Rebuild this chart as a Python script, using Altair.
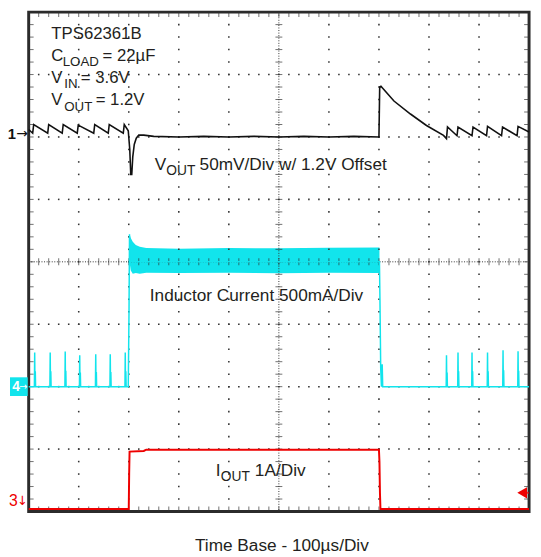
import altair as alt
import numpy as np
import pandas as pd

# ---------------- data read from the scope shot ----------------
# Channel 1: VOUT, 50 mV/div, deviation from 1.2 V (mV); reference level at 6 div
vout_t = [0, 8, 10, 38, 40, 67, 69, 97, 99, 130, 132, 159, 161, 189, 191, 199, 202, 204, 206,
          208, 211, 215, 220, 230, 250, 300, 350, 400, 450, 500, 550, 600, 650, 700,
          701.5, 704, 730, 763, 795, 829, 835, 837, 856, 858, 886, 888, 915, 917, 945,
          947, 976, 978, 1000]
vout_mv = [6, 3, 10, 3, 10, 3, 10, 3, 9.5, 3, 10, 3, 10, 3, 10, 5, -10, -30, -30,
           -16, -6, -1, 1.5, 1.5, 0.5, 0, 0.5, 0, 0.5, 0, 0.5, 0, 0.5, 0,
           40, 40.6, 28.8, 18.4, 9.2, 1.3, -1.3, 8, 1, 8, 1, 8, 1, 8.5, 1,
           8, 1, 8.5, 4]

# Channel 4: inductor current, 500 mA/div, zero at 2 div
il_pulse_t_before = [12, 43, 73, 102, 134, 163, 193]
il_pulse_ma_before = [273, 273, 281, 252, 259, 259, 273]
il_pulse_t_after = [835, 858, 886, 917, 948, 978]
il_pulse_ma_after = [252, 273, 273, 273, 291, 283]
il_edge_t = [199, 200.5, 201.5, 203, 700, 701, 702, 703.5, 705, 706.5, 707.5]
il_edge_ma = [0, 600, 1220, 1000, 1000, 1000, 700, 150, 0, 180, 0]
band_t = [201.5, 204, 208, 214, 222, 235, 300, 400, 500, 600, 700, 701]
band_hi_ma = [1220, 1190, 1160, 1135, 1120, 1110, 1105, 1110, 1108, 1112, 1115, 1115]
band_lo_ma = [1000, 930, 905, 910, 905, 912, 910, 912, 908, 912, 910, 910]

# Channel 3: IOUT, 1 A/div, zero at 0 div
iout_t = [0, 100, 200, 200.8, 201.6, 230, 235, 400, 600, 700, 701, 702, 703, 800, 1000]
iout_a = [0.04, 0.04, 0.04, 0.6, 0.96, 0.97, 0.99, 0.99, 0.99, 0.99, 0.8, 0.3, 0.04, 0.04, 0.04]

# ---------------- styling ----------------
FONT = "Liberation Sans"
SYM = "DejaVu Sans"
TXT = "#231f20"
CYAN = "#12e4ec"
RED = "#ee0000"
GRID = "#333333"

xs = alt.Scale(domain=[0, 1000], nice=False, zero=False)
ys = alt.Scale(domain=[0, 8], nice=False, zero=False)


def X(f):
    return alt.X(f"{f}:Q", scale=xs, axis=None)


def Y(f):
    return alt.Y(f"{f}:Q", scale=ys, axis=None)


# ---------------- build tables ----------------
vout_df = pd.DataFrame({"t": vout_t, "d": 6 + np.array(vout_mv) / 50.0})

il_pts = [(0, 0)]
for t, h in zip(il_pulse_t_before, il_pulse_ma_before):
    il_pts += [(t - 0.6, 0), (t, h), (t + 0.6, 0), (t + 1.2, 0.45 * h), (t + 1.8, 0)]
il_pts += list(zip(il_edge_t, il_edge_ma))
il_pts += [(720, 0)]
for t, h in zip(il_pulse_t_after, il_pulse_ma_after):
    il_pts += [(t - 0.6, 0), (t, h), (t + 0.6, 0), (t + 1.2, 0.45 * h), (t + 1.8, 0)]
il_pts += [(1000, 0)]
il_df = pd.DataFrame(il_pts, columns=["t", "ma"])
il_df["d"] = 2 + il_df["ma"] / 500.0
il_df["o"] = range(len(il_df))

band_df = pd.DataFrame({"t": band_t,
                        "hi": 2 + np.array(band_hi_ma) / 500.0,
                        "lo": 2 + np.array(band_lo_ma) / 500.0})

iout_df = pd.DataFrame({"t": iout_t, "d": iout_a})
vout_df["o"] = range(len(vout_df))
iout_df["o"] = range(len(iout_df))

# grid dots (graticule)
minor_d = np.round(np.arange(0.2, 7.81, 0.2), 2)
minor_t = np.arange(20, 981, 20)
g = []
for t in [100, 200, 300, 400, 600, 700, 800, 900]:
    g += [(t, d) for d in minor_d]
for d in [1, 2, 3, 5, 6, 7]:
    g += [(t, d) for t in minor_t]
grid_df = pd.DataFrame(g, columns=["t", "d"])

vt_df = pd.DataFrame({"t": 500, "d": minor_d})
ht_df = pd.DataFrame({"t": minor_t, "d": 4})
top_df = pd.DataFrame({"t": minor_t, "d": 8})
bot_df = pd.DataFrame({"t": minor_t, "d": 0})
left_df = pd.DataFrame({"t": 0, "d": minor_d})
right_df = pd.DataFrame({"t": 1000, "d": minor_d})

layers = []

# band (high-frequency inductor ripple)
layers.append(alt.Chart(band_df).mark_area(color=CYAN, opacity=1, interpolate="linear").encode(
    x=X("t"), y=Y("hi"), y2=alt.Y2("lo")))

# graticule
layers.append(alt.Chart(grid_df).mark_square(size=2.5, color=GRID, opacity=1).encode(x=X("t"), y=Y("d")))
layers.append(alt.Chart(pd.DataFrame({"t": [500]})).mark_rule(color=GRID, strokeDash=[1, 1.6], strokeWidth=1).encode(x=X("t")))
layers.append(alt.Chart(pd.DataFrame({"d": [4]})).mark_rule(color=GRID, strokeDash=[1, 1.6], strokeWidth=1).encode(y=Y("d")))
layers.append(alt.Chart(vt_df).mark_tick(orient="horizontal", size=7, thickness=1, color=GRID).encode(x=X("t"), y=Y("d")))
layers.append(alt.Chart(ht_df).mark_tick(orient="vertical", size=7, thickness=1, color=GRID).encode(x=X("t"), y=Y("d")))
layers.append(alt.Chart(top_df).mark_tick(orient="vertical", size=5, thickness=1, color=GRID, yOffset=2.5).encode(x=X("t"), y=Y("d")))
layers.append(alt.Chart(bot_df).mark_tick(orient="vertical", size=5, thickness=1, color=GRID, yOffset=-2.5).encode(x=X("t"), y=Y("d")))
layers.append(alt.Chart(left_df).mark_tick(orient="horizontal", size=5, thickness=1, color=GRID, xOffset=2.5).encode(x=X("t"), y=Y("d")))
layers.append(alt.Chart(right_df).mark_tick(orient="horizontal", size=5, thickness=1, color=GRID, xOffset=-2.5).encode(x=X("t"), y=Y("d")))

# traces
layers.append(alt.Chart(il_df).mark_line(color=CYAN, strokeWidth=1.5).encode(x=X("t"), y=Y("d"), order="o:Q"))
layers.append(alt.Chart(vout_df).mark_line(color="#111111", strokeWidth=1.6).encode(x=X("t"), y=Y("d"), order="o:Q"))
layers.append(alt.Chart(iout_df).mark_line(color=RED, strokeWidth=2).encode(x=X("t"), y=Y("d"), order="o:Q"))


def label(text, t, d, size=17, color=TXT, align="left", baseline="alphabetic", dx=0, bold=False, font=FONT):
    df = pd.DataFrame({"t": [t], "d": [d], "s": [text]})
    return alt.Chart(df).mark_text(align=align, baseline=baseline, fontSize=size, color=color,
                                   font=font, dx=dx,
                                   fontWeight="bold" if bold else "normal").encode(
        x=X("t"), y=Y("d"), text="s:N")


# annotation block
layers += [
    label("TPS62361B", 45.3, 7.566),
    label("C", 45.3, 7.219), label("LOAD", 68.0, 7.132, size=13.5), label("= 22µF", 147.6, 7.219),
    label("V", 45.3, 6.864), label("IN", 71.0, 6.777, size=13.5), label("= 3.6V", 104.3, 6.864),
    label("V", 45.3, 6.509), label("OUT", 71.0, 6.422, size=13.5), label("= 1.2V", 133.9, 6.509),
    label("V", 252, 5.475, size=17.5), label("OUT", 275, 5.388, size=14),
    label("50mV/Div w/ 1.2V Offset", 341.5, 5.475, size=17.5),
    label("Inductor Current 500mA/Div", 242, 3.38, size=17.5),
    label("I", 374, 0.568, size=17.5), label("OUT", 384, 0.481, size=14), label("1A/Div", 452, 0.568, size=17.5),
    label("Time Base - 100µs/Div", 506, -0.63, size=17.5, align="center"),
]

# channel markers
layers.append(label("1", 0, 6.05, size=15, color="#111111", align="right", baseline="middle", dx=-13, bold=True))
layers.append(label("→", 0, 6.05, size=14, color="#111111", align="right", baseline="middle", dx=-1, font=SYM))
marker4 = pd.DataFrame({"t": [0], "d1": [2.15], "d2": [1.85]})
layers.append(alt.Chart(marker4).mark_rect(color=CYAN).encode(
    x=alt.value(-19), x2=alt.value(-1), y=Y("d1"), y2=alt.Y2("d2")))
layers.append(label("4", 0, 2.0, size=14, color="white", align="right", baseline="middle", dx=-9, bold=True))
layers.append(label("→", 0, 2.0, size=10, color="white", align="right", baseline="middle", dx=-1.5, font=SYM))
layers.append(label("3", 0, 0.16, size=16, color=RED, align="right", baseline="middle", dx=-11))
layers.append(label("↓", 0, 0.16, size=13, color=RED, align="right", baseline="middle", dx=-1, font=SYM))

# trigger-level arrow at the right edge
trig = pd.DataFrame({"t": [1000], "d": [0.3]})
layers.append(alt.Chart(trig).mark_point(shape="triangle-left", filled=True, size=130, color=RED,
                                         opacity=1, xOffset=-7).encode(x=X("t"), y=Y("d")))
layers.append(alt.Chart(trig).mark_tick(orient="horizontal", size=6, thickness=2, color=RED,
                                        xOffset=-3).encode(x=X("t"), y=Y("d")))

chart = alt.layer(*layers).properties(
    width=508, height=507,
    padding={"left": 21, "top": 0, "right": 4, "bottom": 42},
    autosize=alt.AutoSizeParams(type="none"),
    background="white",
).configure_view(stroke="#2b2b2b", strokeWidth=3)

chart.save("out.html", embed_options={"renderer": "svg", "actions": False})
